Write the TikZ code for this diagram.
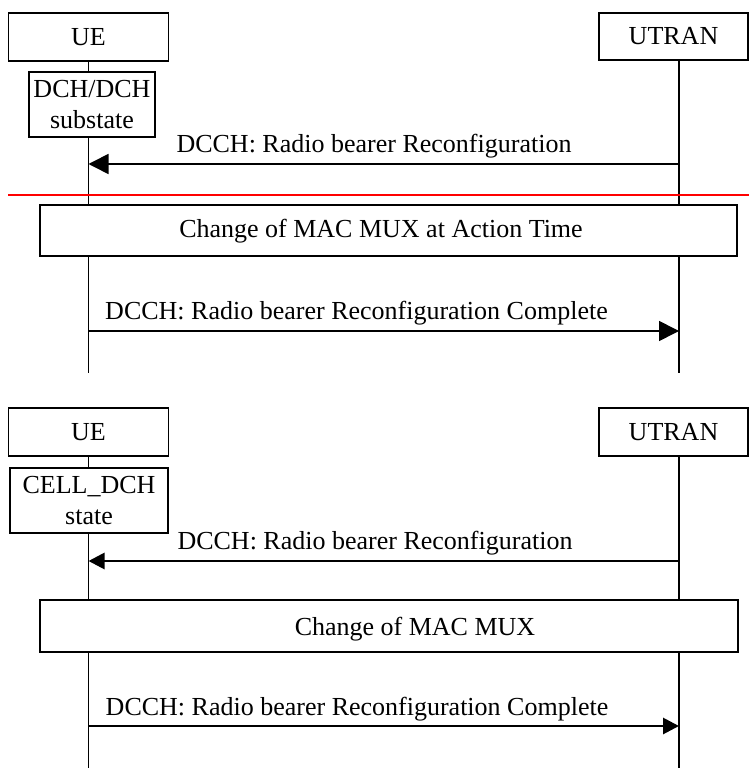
\documentclass[tikz,border=0pt]{standalone}
\usepackage{fontspec}
\setmainfont{Liberation Serif}
\usetikzlibrary{arrows.meta,positioning,backgrounds}
\tikzset{
  ent/.style={draw, line width=0.65pt, fill=white, inner sep=0pt},
  statebox/.style={ent, align=center, minimum height=32.5pt},
  actbox/.style={ent, minimum height=25.5pt},
  life/.style={line width=0.65pt},
  msg/.style={line width=0.8pt, -{Triangle[length=10pt,width=10pt]}},
  msgb/.style={line width=1.4pt, -{Triangle[length=8pt,width=8pt]}},
  lbl/.style={anchor=base, inner sep=0pt},
  cut/.style={red, line width=0.9pt}}

\begin{document}
\begin{tikzpicture}[x=0.5pt, y=-0.5pt, font=\fontsize{13}{15.5}\selectfont]
  \useasboundingbox (0,0) rectangle (749,774);
  % upper chart: DCH/DCH substate
  \node[ent, minimum width=80pt, minimum height=24pt] (ue) at (88.5,37) {UE};
  \node[ent, minimum width=74.5pt, minimum height=23.5pt] (utran) at (673.5,36.5) {UTRAN};
  \node[statebox, minimum width=63pt] (dch) at (92,104.5) {DCH/DCH\\substate};
  \node[actbox, minimum width=348.5pt] (mac) at (388.5,230.5) {};
  \node[lbl] (mactxt) at (381,238) {Change of MAC MUX at Action Time};
  \coordinate (ueend) at (88.5,373); \coordinate (utend) at (679,373);
  \coordinate (m1u) at (88.5,164); \coordinate (m1n) at (679,164);
  \coordinate (m2u) at (88.5,331); \coordinate (m2n) at (679,331);
  \coordinate (cutl) at (8,195); \coordinate (cutr) at (749,195);
  \begin{scope}[on background layer]
    \draw[life] (ue.south) -- (ue.south |- dch.north);
    \draw[life] (ue.south |- dch.south) -- (ueend);
    \draw[life] (utran.south -| utend) -- (utend);
  \end{scope}
  \draw[msg] (m1n) -- (m1u);
  \node[lbl] (m1lbl) at (374,153) {DCCH: Radio bearer Reconfiguration};
  \draw[cut] (cutl) -- (cutr);
  \draw[msg] (m2u) -- (m2n);
  \node[lbl] (m2lbl) at (356.5,320) {DCCH: Radio bearer Reconfiguration Complete};

  % lower chart: CELL_DCH state
  \node[ent, minimum width=80pt, minimum height=24pt] (ueb) at (88.5,432) {UE};
  \node[ent, minimum width=74.5pt, minimum height=24pt] (utranb) at (673.5,432) {UTRAN};
  \node[statebox, minimum width=79pt] (celldch) at (89,500.5) {CELL\_DCH\\state};
  \node[actbox, minimum width=349pt, minimum height=26pt] (macb) at (389,626) {};
  \node[lbl] (macbtxt) at (415,635) {Change of MAC MUX};
  \coordinate (uebend) at (88.5,768); \coordinate (utbend) at (679,768);
  \coordinate (m3u) at (88.5,561); \coordinate (m3n) at (679,561);
  \coordinate (m4u) at (88.5,726); \coordinate (m4n) at (679,726);
  \begin{scope}[on background layer]
    \draw[life] (ueb.south) -- (ueb.south |- celldch.north);
    \draw[life] (ueb.south |- celldch.south) -- (uebend);
    \draw[life] (utranb.south -| utbend) -- (utbend);
  \end{scope}
  \draw[msgb] (m3n) -- (m3u);
  \node[lbl] (m3lbl) at (375,549) {DCCH: Radio bearer Reconfiguration};
  \draw[msgb] (m4u) -- (m4n);
  \node[lbl] (m4lbl) at (357,715) {DCCH: Radio bearer Reconfiguration Complete};
\end{tikzpicture}
\end{document}
